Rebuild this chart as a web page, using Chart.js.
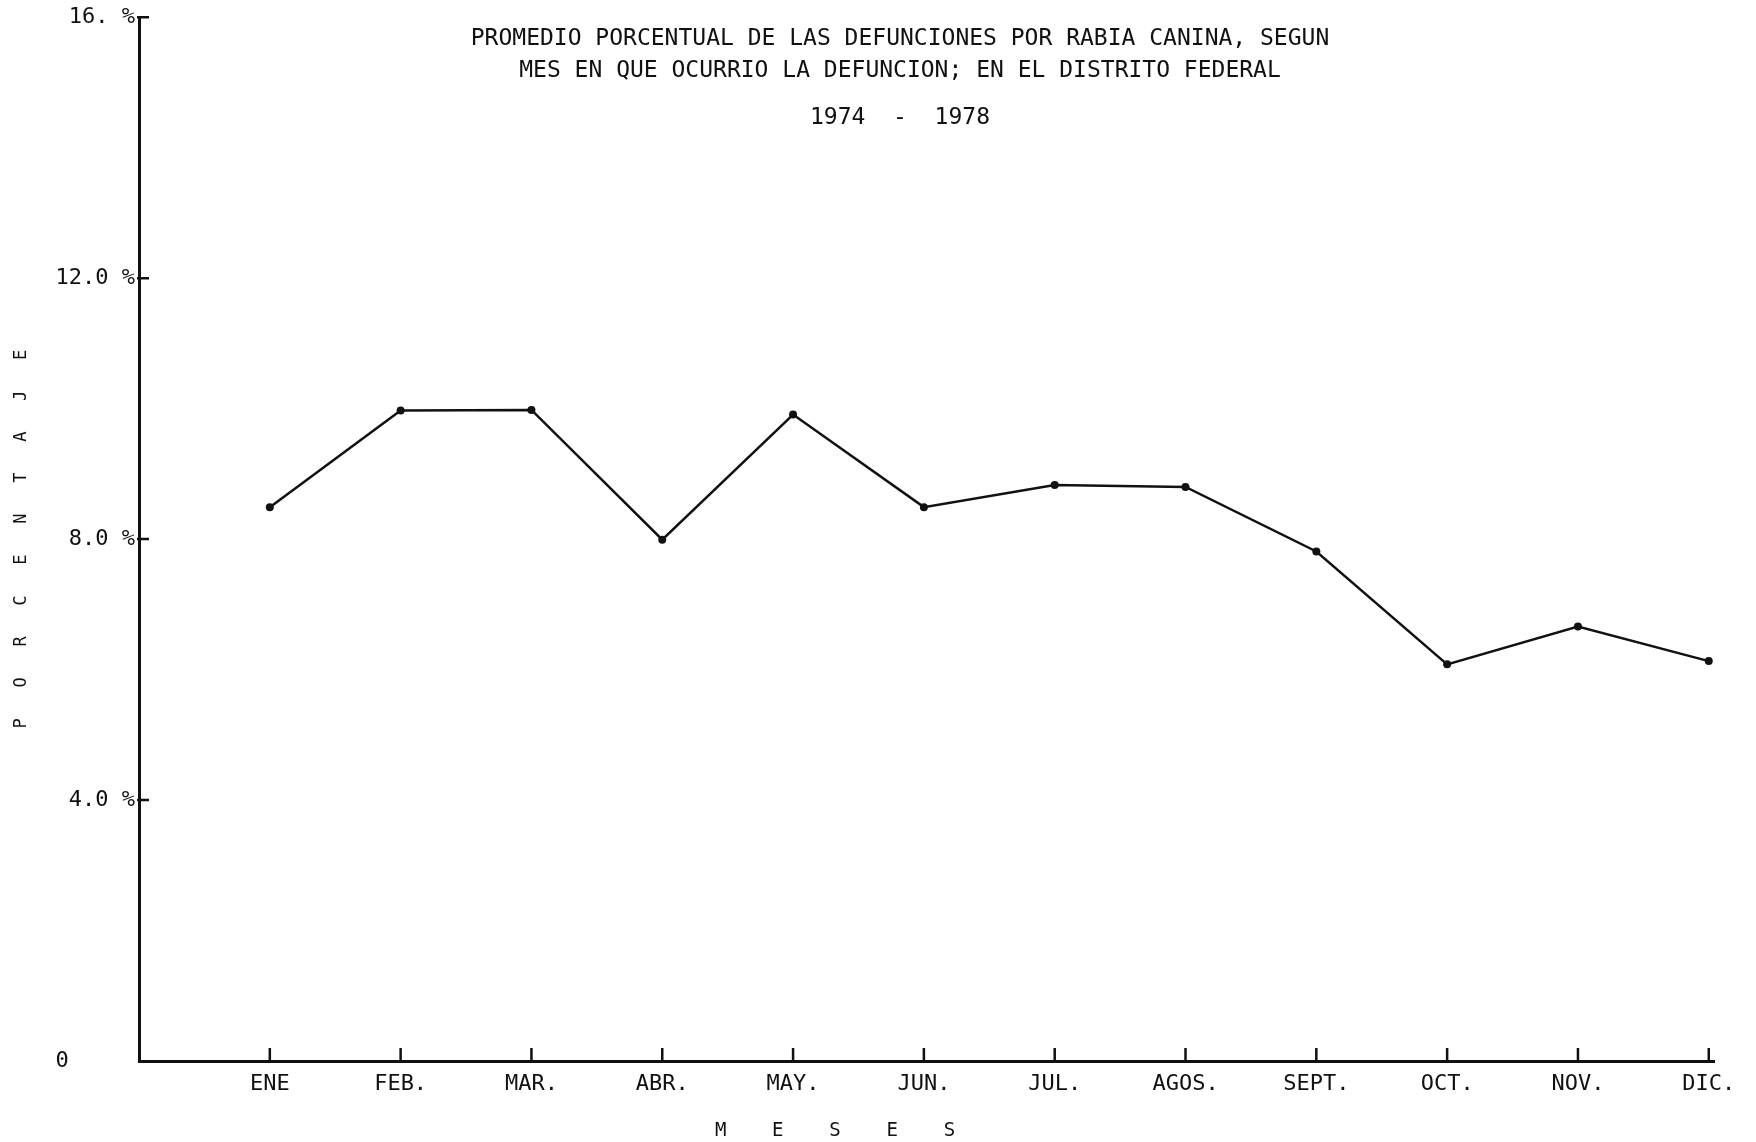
<!DOCTYPE html>
<html>
<head>
<meta charset="utf-8">
<script src="https://cdn.jsdelivr.net/npm/chart.js@4"></script>
<style>
  body { margin: 0; background: #fff; }
</style>
</head>
<body>
<canvas id="rabia" width="1756" height="1142"></canvas>
<script>
  const meses = ['ENE', 'FEB.', 'MAR.', 'ABR.', 'MAY.', 'JUN.', 'JUL.', 'AGOS.', 'SEPT.', 'OCT.', 'NOV.', 'DIC.'];
  const porcentaje = [8.49, 9.97, 9.98, 7.99, 9.91, 8.49, 8.83, 8.80, 7.81, 6.08, 6.66, 6.13];

  const yTicks = [0, 4, 8, 12, 16];
  const yTickLabels = ['0     ', '4.0 %', '8.0 %', '12.0 %', '16. %'];

  const titulo = [
    'PROMEDIO PORCENTUAL DE LAS DEFUNCIONES POR RABIA CANINA, SEGUN',
    'MES EN QUE OCURRIO LA DEFUNCION; EN EL DISTRITO FEDERAL',
    '1974  -  1978'
  ];

  const tinta = '#111';
  Chart.defaults.font.family = '"DejaVu Sans Mono", monospace';
  Chart.defaults.color = tinta;

  // titulo y marcas de los ejes (hacia adentro, como en el original)
  const dibujoExtra = {
    id: 'dibujoExtra',
    afterDraw(chart) {
      const ctx = chart.ctx;
      const x = chart.scales.x, y = chart.scales.y;
      ctx.save();
      ctx.fillStyle = tinta;
      ctx.font = '23px "DejaVu Sans Mono"';
      ctx.textAlign = 'center';
      ctx.textBaseline = 'middle';
      const lineasY = [39, 71, 118];
      titulo.forEach((t, i) => ctx.fillText(t, 900, lineasY[i]));

      ctx.strokeStyle = tinta;
      ctx.lineWidth = 2.5;
      ctx.beginPath();
      y.ticks.forEach(t => {
        if (t.value === 0) return;
        const py = y.getPixelForValue(t.value);
        ctx.moveTo(x.left - 2, py);
        ctx.lineTo(x.left + 10, py);
      });
      x.ticks.forEach(t => {
        const px = x.getPixelForValue(t.value);
        ctx.moveTo(px, y.bottom);
        ctx.lineTo(px, y.bottom - 13);
      });
      ctx.stroke();
      ctx.restore();
    }
  };

  const data = {
    datasets: [{
      label: 'Promedio porcentual',
      data: porcentaje.map((v, i) => ({ x: i + 1, y: v })),
      borderColor: tinta,
      backgroundColor: tinta,
      borderWidth: 2.5,
      pointRadius: 4,
      pointBackgroundColor: tinta,
      pointBorderWidth: 0,
      tension: 0,
      clip: false
    }]
  };

  const config = {
    type: 'line',
    data: data,
    options: {
      responsive: false,
      devicePixelRatio: 1,
      animation: false,
      layout: { padding: { top: 15, right: 42, left: 0, bottom: 0 } },
      plugins: {
        legend: { display: false },
        tooltip: { enabled: false }
      },
      scales: {
        x: {
          type: 'linear',
          min: 0,
          max: 12.04,
          afterFit: s => { s.height = 81; },
          afterBuildTicks: s => { s.ticks = meses.map((m, i) => ({ value: i + 1 })); },
          border: { color: tinta, width: 3 },
          grid: { display: false, drawTicks: false },
          ticks: {
            autoSkip: false,
            maxRotation: 0,
            padding: 10,
            font: { size: 22 },
            callback: v => meses[v - 1]
          },
          title: {
            display: true,
            text: 'M    E    S    E    S                ',
            font: { size: 19 },
            padding: { top: 0, bottom: 0 }
          }
        },
        y: {
          min: 0,
          max: 16,
          afterFit: s => { s.width = 139; },
          afterBuildTicks: s => { s.ticks = yTicks.map(v => ({ value: v })); },
          border: { color: tinta, width: 3 },
          grid: { display: false, drawTicks: false },
          ticks: {
            padding: 4,
            font: { size: 22 },
            callback: v => yTickLabels[yTicks.indexOf(v)]
          },
          title: {
            display: true,
            text: 'P   O   R   C   E   N   T   A   J   E',
            font: { size: 17 },
            padding: { top: 11, bottom: 0 }
          }
        }
      }
    },
    plugins: [dibujoExtra]
  };

  const grafica = new Chart(document.getElementById('rabia'), config);
</script>
</body>
</html>
